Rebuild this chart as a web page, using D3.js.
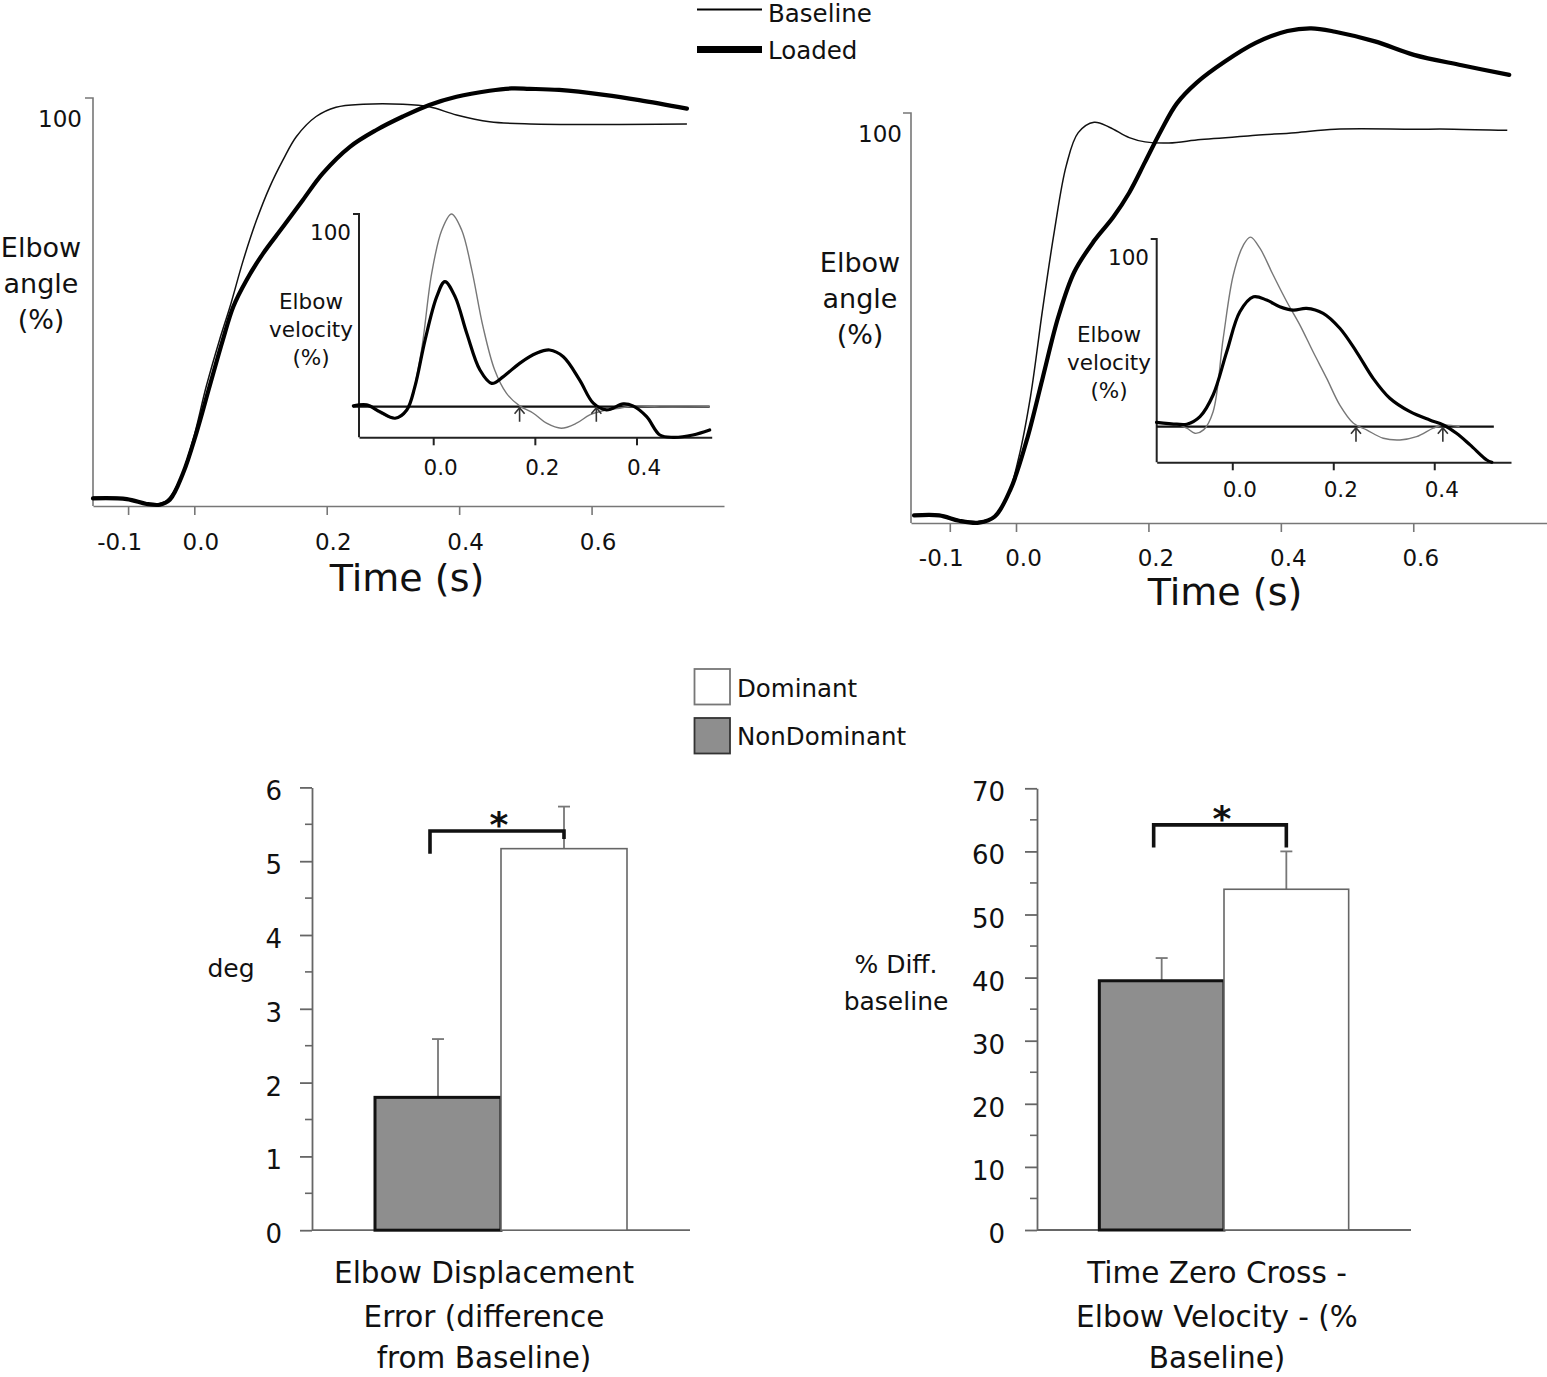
<!DOCTYPE html>
<html><head><meta charset="utf-8">
<script src="https://cdn.jsdelivr.net/npm/d3@7/dist/d3.min.js"></script>
<style>
body{margin:0;background:#fff}
svg{display:block}
text{font-family:"DejaVu Sans",sans-serif;fill:#111}
</style></head>
<body><svg id="c" width="1547" height="1377"></svg>
<script>
// ---------------- DATA ----------------
const lineSeries = ["Baseline", "Loaded"];
const timeTicks = [-0.1, 0.0, 0.2, 0.4, 0.6];
const insetTimeTicks = [0.0, 0.2, 0.4];

// Elbow angle (%), left panel [time s, %]
const angleLeftBaseline = [[-0.153,0.2],[-0.102,-0.1],[-0.072,-1.4],[-0.057,-1.6],[-0.042,-0.7],[-0.022,4.8],[-0.002,15.5],[0.018,29.8],[0.038,42.2],[0.054,51.2],[0.074,63.6],[0.094,74.3],[0.114,83.2],[0.134,90.4],[0.154,96.6],[0.184,102.0],[0.214,104.5],[0.255,105.3],[0.315,105.3],[0.355,104.6],[0.396,102.4],[0.446,100.6],[0.507,100],[0.744,100]];
const angleLeftLoaded = [[-0.153,-0.1],[-0.102,-0.3],[-0.072,-1.6],[-0.052,-1.8],[-0.037,-0.5],[-0.017,6.6],[0.003,17.3],[0.023,29.8],[0.043,42.2],[0.059,51.2],[0.079,58.3],[0.104,65.4],[0.134,72.5],[0.164,79.7],[0.194,86.8],[0.235,93.9],[0.275,98.4],[0.315,102.0],[0.355,105.1],[0.396,107.3],[0.446,108.9],[0.479,109.5],[0.506,109.4],[0.551,109.1],[0.619,107.8],[0.672,106.4],[0.744,104.1]];

// Elbow angle (%), right panel
const angleRightBaseline = [[-0.154,0.05],[-0.116,0.05],[-0.086,-1.3],[-0.056,-1.7],[-0.032,-0.4],[-0.014,4.1],[0.004,14.8],[0.022,30.9],[0.040,53.2],[0.058,73.8],[0.076,90.8],[0.094,99.3],[0.118,102.0],[0.141,100.7],[0.171,98.0],[0.195,96.9],[0.231,96.6],[0.279,97.5],[0.362,98.6],[0.422,99.3],[0.482,100.2],[0.601,100.2],[0.661,100.2],[0.742,99.9]];
const angleRightLoaded = [[-0.154,-0.1],[-0.116,-0.1],[-0.086,-1.5],[-0.056,-2.0],[-0.032,-0.4],[-0.008,6.8],[0.016,19.3],[0.040,35.4],[0.064,51.5],[0.088,63.1],[0.118,71.2],[0.147,77.4],[0.171,83.7],[0.195,91.7],[0.219,99.8],[0.243,106.9],[0.273,112.3],[0.315,117.7],[0.362,122.6],[0.410,125.7],[0.446,126.4],[0.482,125.5],[0.542,123.0],[0.601,119.5],[0.673,116.8],[0.745,114.3]];

// Elbow velocity (%), left inset
const velLeftBaseline = [[-0.157,0.4],[-0.131,0.9],[-0.105,-3.4],[-0.075,-6.0],[-0.056,-3.4],[-0.042,5.2],[-0.023,29.4],[-0.003,69.2],[0.017,91.7],[0.036,100],[0.056,91.7],[0.076,70.9],[0.098,41.5],[0.121,19.0],[0.144,7.0],[0.170,0.4],[0.197,-3.4],[0.223,-8.6],[0.252,-11.2],[0.282,-8.6],[0.308,-4.3],[0.334,-2.1],[0.367,-0.8],[0.393,0.4],[0.446,-0.1],[0.544,0]];
const velLeftLoaded = [[-0.157,0.4],[-0.131,0.9],[-0.105,-2.6],[-0.075,-6.0],[-0.052,-1.7],[-0.036,10.4],[-0.016,34.6],[0.007,57.1],[0.023,64.9],[0.043,57.1],[0.066,38.1],[0.092,19.0],[0.115,12.1],[0.138,15.6],[0.170,22.5],[0.203,27.7],[0.229,29.4],[0.256,25.9],[0.288,13.9],[0.315,1.8],[0.341,-1.7],[0.374,1.4],[0.393,0.4],[0.420,-5.2],[0.446,-14.7],[0.472,-15.9],[0.511,-14.7],[0.544,-12.1]];
const velLeftZeroCross = [0.170, 0.321];

// Elbow velocity (%), right inset
const velRightBaseline = [[-0.150,1.8],[-0.110,1.3],[-0.090,-0.8],[-0.074,-3.5],[-0.057,-1.7],[-0.038,7.9],[-0.018,46.6],[0.002,80.0],[0.022,95.8],[0.036,100],[0.055,94.0],[0.081,80.0],[0.108,65.9],[0.134,53.6],[0.160,39.5],[0.187,25.5],[0.213,11.4],[0.240,1.8],[0.266,-1.7],[0.299,-6.1],[0.332,-7.0],[0.365,-5.3],[0.398,-0.8],[0.418,0.9],[0.450,0]];
const velRightLoaded = [[-0.150,2.3],[-0.110,1.3],[-0.090,1.3],[-0.064,5.3],[-0.038,16.7],[-0.011,39.5],[0.015,60.6],[0.042,68.5],[0.068,66.8],[0.094,63.3],[0.121,61.5],[0.147,62.4],[0.180,59.8],[0.213,51.9],[0.246,39.5],[0.279,25.5],[0.312,15.0],[0.352,7.9],[0.391,3.5],[0.418,0.9],[0.444,-3.5],[0.471,-9.6],[0.504,-17.6],[0.514,-18.8]];
const velRightZeroCross = [0.245, 0.417];

// Bar charts
const barGroups = ["NonDominant", "Dominant"];
const dispMeans = [1.8, 5.17];      // deg
const dispErrors = [0.79, 0.57];
const zeroMeans = [39.5, 54.0];     // % diff baseline
const zeroErrors = [3.6, 6.0];
const dispTicks = [0,1,2,3,4,5,6];
const zeroTicks = [0,10,20,30,40,50,60,70];
const dispCaption = ["Elbow Displacement", "Error (difference", "from Baseline)"];
const zeroCaption = ["Time Zero Cross -", "Elbow Velocity - (%", "Baseline)"];

// ---------------- DRAW ----------------
const svg = d3.select("#c");
const FONT = '"DejaVu Sans", sans-serif';

function txt(g, x, y, s, size, anchor, extra) {
  const t = g.append("text").attr("x", x).attr("y", y).text(s)
    .attr("font-size", size).attr("text-anchor", anchor || "middle");
  if (extra) extra(t);
  return t;
}

function linePanel(cfg) {
  const g = svg.append("g");
  const x = d3.scaleLinear().domain(cfg.xDomain).range(cfg.xRange);
  const y = d3.scaleLinear().domain(cfg.yDomain).range(cfg.yRange);
  const ac = cfg.axisColor, aw = cfg.axisWidth;
  // x axis
  const xAxis = d3.axisBottom(x).tickValues(cfg.ticks).tickSize(cfg.tickLen).tickSizeOuter(0)
    .tickFormat(d3.format(".1f"));
  const xg = g.append("g").attr("transform", `translate(0,${cfg.yRange[0]})`).call(xAxis);
  xg.select(".domain").attr("stroke", ac).attr("stroke-width", aw);
  xg.selectAll(".tick line").attr("stroke", ac).attr("stroke-width", aw);
  xg.selectAll(".tick text").attr("font-family", FONT).attr("font-size", cfg.tickFont).attr("fill", "#111")
    .attr("y", cfg.tickLabelDy).attr("dy", 0)
    .attr("dx", d => d < 0 ? cfg.negDx : cfg.posDx)
    .text(d => d3.format(".1f")(d).replace("−", "-"));
  // y axis (line + top hook only)
  const yAxis = d3.axisLeft(y).tickValues([]).tickSizeOuter(cfg.hook);
  const yg = g.append("g").attr("transform", `translate(${cfg.xRange[0]},0)`).call(yAxis);
  yg.select(".domain").attr("stroke", ac).attr("stroke-width", aw)
    .attr("d", `M-${cfg.hook},${cfg.yRange[1]}H0V${cfg.yRange[0]}`);
  // "100" label
  txt(g, cfg.hundredX, cfg.hundredY, "100", cfg.hundredFont, "end");
  // zero line
  if (cfg.zeroLine) {
    g.append("line").attr("x1", x(cfg.zeroLine[0])).attr("x2", x(cfg.zeroLine[1]))
      .attr("y1", y(0)).attr("y2", y(0)).attr("stroke", "#111").attr("stroke-width", 2.2);
  }
  const line = d3.line().x(d => x(d[0])).y(d => y(d[1])).curve(d3.curveCatmullRom.alpha(0.5));
  g.append("path").datum(cfg.thin).attr("d", line).attr("fill", "none")
    .attr("stroke", cfg.thinColor).attr("stroke-width", cfg.thinW).attr("stroke-linejoin", "round");
  g.append("path").datum(cfg.thick).attr("d", line).attr("fill", "none")
    .attr("stroke", "#000").attr("stroke-width", cfg.thickW).attr("stroke-linejoin", "round").attr("stroke-linecap", "round");
  // zero-cross arrows
  if (cfg.arrows) {
    cfg.arrows.forEach(t => {
      const ax = x(t), ay = y(0);
      g.append("path").attr("d", `M${ax},${ay + 15}V${ay + 1}M${ax - 5},${ay + 7}L${ax},${ay + 1}L${ax + 5},${ay + 7}`)
        .attr("fill", "none").attr("stroke", "#333").attr("stroke-width", 1.6);
    });
  }
  // y label lines
  cfg.yLabel.forEach((s, i) => txt(g, cfg.yLabelX, cfg.yLabelY[i], s, cfg.yLabelFont, "middle"));
  if (cfg.xLabel) txt(g, cfg.xLabel[0], cfg.xLabel[1], "Time (s)", 38, "middle");
  return {x, y};
}

// Left main
linePanel({
  xDomain: [-0.153, 0.8], xRange: [93, 724], yDomain: [-2.14, 106.95], yRange: [506, 98],
  ticks: timeTicks, tickLen: 9, tickFont: 23, tickLabelDy: 44, negDx: -9, posDx: 6,
  axisColor: "#777", axisWidth: 1.6, hook: 8,
  hundredX: 82, hundredY: 127, hundredFont: 23,
  thin: angleLeftBaseline, thick: angleLeftLoaded, thinColor: "#111", thinW: 1.5, thickW: 4.2,
  yLabel: ["Elbow", "angle", "(%)"], yLabelX: 41, yLabelY: [257, 293, 329], yLabelFont: 27,
  xLabel: [407, 591]
});
// Right main
linePanel({
  xDomain: [-0.1586, 0.802], xRange: [911, 1547], yDomain: [-2.08, 104.4], yRange: [523, 113],
  ticks: timeTicks, tickLen: 9, tickFont: 23, tickLabelDy: 43, negDx: -9, posDx: 7,
  axisColor: "#777", axisWidth: 1.6, hook: 8,
  hundredX: 902, hundredY: 142, hundredFont: 23,
  thin: angleRightBaseline, thick: angleRightLoaded, thinColor: "#111", thinW: 1.5, thickW: 4.2,
  yLabel: ["Elbow", "angle", "(%)"], yLabelX: 860, yLabelY: [272, 308, 344], yLabelFont: 27,
  xLabel: [1225, 605]
});
// Left inset
linePanel({
  xDomain: [-0.146, 0.548], xRange: [359, 711.7], yDomain: [-15.9, 100], yRange: [437.3, 214],
  ticks: insetTimeTicks, tickLen: 8, tickFont: 21.5, tickLabelDy: 38, negDx: 0, posDx: 7,
  axisColor: "#222", axisWidth: 2, hook: 6,
  hundredX: 351, hundredY: 240, hundredFont: 21.5,
  thin: velLeftBaseline, thick: velLeftLoaded, thinColor: "#777", thinW: 1.4, thickW: 3.2,
  zeroLine: [-0.158, 0.544], arrows: velLeftZeroCross,
  yLabel: ["Elbow", "velocity", "(%)"], yLabelX: 311, yLabelY: [309, 337, 365], yLabelFont: 21.5
});
// Right inset
linePanel({
  xDomain: [-0.1497, 0.552], xRange: [1156.7, 1511], yDomain: [-18.8, 99], yRange: [462.3, 239],
  ticks: insetTimeTicks, tickLen: 8, tickFont: 21.5, tickLabelDy: 35, negDx: 0, posDx: 7,
  axisColor: "#222", axisWidth: 2, hook: 6,
  hundredX: 1149, hundredY: 265, hundredFont: 21.5,
  thin: velRightBaseline, thick: velRightLoaded, thinColor: "#777", thinW: 1.4, thickW: 3.2,
  zeroLine: [-0.1497, 0.518], arrows: velRightZeroCross,
  yLabel: ["Elbow", "velocity", "(%)"], yLabelX: 1109, yLabelY: [342, 370, 398], yLabelFont: 21.5
});

// Top legend
const lg = svg.append("g");
lineSeries.forEach((s, i) => {
  const yy = i === 0 ? 9.5 : 49.5;
  lg.append("line").attr("x1", 697).attr("x2", 762).attr("y1", yy).attr("y2", yy)
    .attr("stroke", "#000").attr("stroke-width", i === 0 ? 2 : 7);
  txt(lg, 768, i === 0 ? 22 : 59, s, 24.5, "start");
});

// ---------------- BAR CHARTS ----------------
function barPanel(cfg) {
  const g = svg.append("g");
  const y = d3.scaleLinear().domain(cfg.yDomain).range(cfg.yRange);
  const x = d3.scaleBand().domain(barGroups).range(cfg.xRange).paddingInner(0).paddingOuter(0.5);
  const ac = "#666";
  // minor ticks
  const minor = d3.range(cfg.yDomain[0] + cfg.minorStep, cfg.yDomain[1], cfg.minorStep * 2);
  const ya = d3.axisLeft(y).tickValues(cfg.ticks).tickSize(12).tickSizeOuter(0).tickFormat(d3.format("d"));
  const yg = g.append("g").attr("transform", `translate(${cfg.xRange[0]},0)`).call(ya);
  yg.select(".domain").attr("stroke", ac).attr("stroke-width", 1.8);
  yg.selectAll(".tick line").attr("stroke", ac).attr("stroke-width", 1.8);
  yg.selectAll(".tick text").attr("font-family", FONT).attr("font-size", 26).attr("fill", "#111")
    .attr("x", -cfg.labelGap).attr("dy", 12.5).attr("y", 0);
  g.selectAll(".minor").data(minor).join("line")
    .attr("x1", cfg.xRange[0] - 7).attr("x2", cfg.xRange[0]).attr("y1", d => y(d)).attr("y2", d => y(d))
    .attr("stroke", ac).attr("stroke-width", 1.6);
  // x axis line
  g.append("line").attr("x1", cfg.xRange[0]).attr("x2", cfg.xRange[1]).attr("y1", y(0)).attr("y2", y(0))
    .attr("stroke", ac).attr("stroke-width", 1.8);
  // error bars (upper)
  barGroups.forEach((k, i) => {
    const cx = x(k) + x.bandwidth() / 2;
    g.append("line").attr("x1", cx).attr("x2", cx).attr("y1", y(cfg.means[i])).attr("y2", y(cfg.means[i] + cfg.errors[i]))
      .attr("stroke", "#777").attr("stroke-width", 1.8);
    g.append("line").attr("x1", cx - 6).attr("x2", cx + 6).attr("y1", y(cfg.means[i] + cfg.errors[i])).attr("y2", y(cfg.means[i] + cfg.errors[i]))
      .attr("stroke", "#777").attr("stroke-width", 1.8);
  });
  // bars
  g.selectAll(".bar").data(barGroups).join("rect")
    .attr("x", d => x(d)).attr("width", x.bandwidth())
    .attr("y", (d, i) => y(cfg.means[i])).attr("height", (d, i) => y(0) - y(cfg.means[i]))
    .attr("fill", d => d === "NonDominant" ? "#8e8e8e" : "#fff")
    .attr("stroke", d => d === "NonDominant" ? "#111" : "#666")
    .attr("stroke-width", d => d === "NonDominant" ? 3 : 1.6);
  // significance bracket
  const lx = x("NonDominant") + x.bandwidth() / 2 - 8, rx = x("Dominant") + x.bandwidth() / 2;
  g.append("path").attr("d", `M${lx},${y(cfg.bracket[1])}V${y(cfg.bracket[0])}H${rx}V${y(cfg.bracket[2])}`)
    .attr("fill", "none").attr("stroke", "#111").attr("stroke-width", 3.6);
  txt(g, (lx + rx) / 2 + 2, y(cfg.bracket[0]) + cfg.starDy, "*", 36, "middle", t => t.attr("font-weight", "bold"));
  // y label
  cfg.yLabel.forEach((s, i) => txt(g, cfg.yLabelX, cfg.yLabelY[i], s, 25, "middle"));
  // caption
  cfg.caption.forEach((s, i) => txt(g, cfg.captionX, [1283, 1327, 1368][i], s, 29.5, "middle"));
}

barPanel({
  yDomain: [0, 6], yRange: [1230.2, 787.4], xRange: [312, 690], ticks: dispTicks, minorStep: 0.5,
  labelGap: 30, means: dispMeans, errors: dispErrors, bracket: [5.41, 5.1, 5.3], starDy: 6,
  yLabel: ["deg"], yLabelX: 231, yLabelY: [977], caption: dispCaption, captionX: 484
});
barPanel({
  yDomain: [0, 70], yRange: [1230, 788.3], xRange: [1037, 1411], ticks: zeroTicks, minorStep: 5,
  labelGap: 32, means: zeroMeans, errors: zeroErrors, bracket: [64.2, 60.6, 60.6], starDy: 6,
  yLabel: ["% Diff.", "baseline"], yLabelX: 896, yLabelY: [973, 1010], caption: zeroCaption, captionX: 1217
});

// Bottom legend
const bl = svg.append("g");
[["Dominant", "#fff", "#777", 669, 697], ["NonDominant", "#8e8e8e", "#333", 718, 745]].forEach(r => {
  bl.append("rect").attr("x", 694.5).attr("y", r[3]).attr("width", 35.5).attr("height", 35.5)
    .attr("fill", r[1]).attr("stroke", r[2]).attr("stroke-width", 1.8);
  txt(bl, 737, r[4], r[0], 24.5, "start");
});
</script>
</body></html>
